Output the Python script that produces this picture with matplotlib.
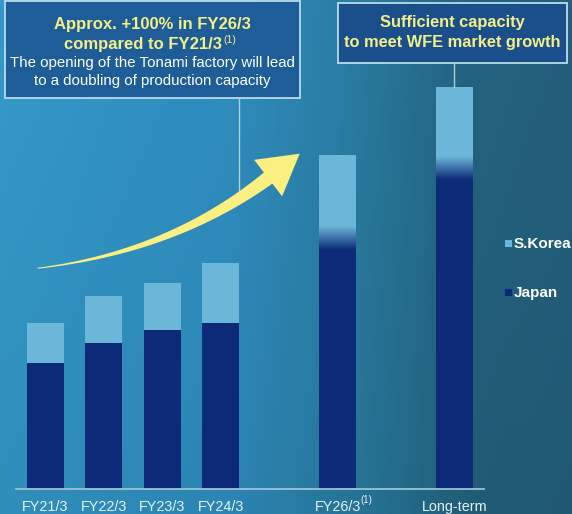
import matplotlib

matplotlib.use("Agg")
import matplotlib.pyplot as plt
import numpy as np
from matplotlib.colors import to_rgba
from matplotlib.patches import PathPatch, Rectangle
from matplotlib.path import Path
from matplotlib.transforms import IdentityTransform

plt.rcParams["font.family"] = ["Liberation Sans", "DejaVu Sans"]

# capacity index (FY21/3 total = 100)
periods = ["FY21/3", "FY22/3", "FY23/3", "FY24/3", "FY26/3", "Long-term"]
footnoted = [False, False, False, False, True, False]
positions = [0, 1, 2, 3, 5, 7]
japan = [76, 88, 96, 100, 152, 194]
korea = [24, 28, 28, 36, 49, 48]
blended = [False, False, False, False, True, True]
legend_labels = ["S.Korea", "Japan"]

JAPAN = "#0c2a77"
KOREA = "#6cb6da"
YELLOW = "#f4ef88"
BOX_EDGE = "#b9dcea"
TICK = "#e4f1f8"

W, H = 572, 514
fig = plt.figure(figsize=(W / 100, H / 100), dpi=100)

# background gradient
bg = fig.add_axes([0, 0, 1, 1])
xs = np.linspace(0, 1, 300)
stops = [0.0, 0.4, 0.62, 0.82, 1.0]
cols = np.array([to_rgba(c)[:3] for c in ["#3499c9", "#2f8ec0", "#297ca1", "#23637f", "#235f7c"]])
row = np.stack([np.interp(xs, stops, cols[:, k]) for k in range(3)], axis=-1)
shade = np.linspace(1.0, 0.93, 120)[:, None, None]
bg.imshow(row[None, :, :] * shade, aspect="auto", extent=[0, 1, 0, 1])
bg.axis("off")

# bars
ax = fig.add_axes([16 / W, 1 - 489 / H, 468 / W, 260 * 1.66 / H])
ax.patch.set_alpha(0)
width = 0.63
ax.bar(positions, japan, width=width, color=JAPAN, zorder=2)
ax.bar(positions, korea, bottom=japan, width=width, color=KOREA, zorder=2)

# soft transition on the forecast bars
grad = np.linspace(0, 1, 64)[:, None, None]
grad_img = np.array(to_rgba(JAPAN)) * (1 - grad) + np.array(to_rgba(KOREA)) * grad
for x, j, b in zip(positions, japan, blended):
    if b:
        ax.imshow(grad_img, extent=[x - width / 2, x + width / 2, j - 8, j + 6],
                  origin="lower", aspect="auto", zorder=3)

ax.set_xlim(-0.5, 7.5)
ax.set_ylim(0, 260)
for side in ["top", "right", "left"]:
    ax.spines[side].set_visible(False)
ax.spines["bottom"].set_color("#9cc3d6")
ax.spines["bottom"].set_linewidth(1.3)
ax.set_yticks([])
ax.set_xticks(positions)
ax.set_xticklabels(periods)
ax.tick_params(axis="x", length=0, pad=8, labelsize=10.4, labelcolor=TICK)
for x, f in zip(positions, footnoted):
    if f:
        ax.annotate("(1)", xy=(x, 0), xycoords=("data", "axes fraction"),
                    xytext=(23, -11), textcoords="offset pixels", ha="left",
                    va="center", fontsize=7, color=TICK)

# overlay in pixel coordinates for callouts and legend
ov = fig.add_axes([0, 0, 1, 1])
ov.set_xlim(0, W)
ov.set_ylim(H, 0)
ov.axis("off")

for (lbl, c), yc in zip(zip(legend_labels, [KOREA, JAPAN]), [243.5, 292.5]):
    ov.add_patch(Rectangle((505, yc - 3.5), 7, 7, fc=c, ec="none"))
    ov.text(514, yc, lbl, ha="left", va="center", color="white",
            fontsize=11, weight="bold")

ov.add_patch(Rectangle((5, 1), 295, 97, fc="#1e5d98", ec=BOX_EDGE, lw=1.3))
ov.add_patch(Rectangle((338, 3), 229, 60, fc="#1b4f8b", ec=BOX_EDGE, lw=1.3))
ov.plot([239, 239], [98, 192], color="#a9cfe0", lw=1)
ov.plot([454, 454], [63, 87], color="#a9cfe0", lw=1)

ov.text(152, 25, "Approx. +100% in FY26/3", ha="center", va="center",
        color=YELLOW, fontsize=12, weight="bold")
ov.text(222, 45, "compared to FY21/3", ha="right", va="center",
        color=YELLOW, fontsize=12, weight="bold")
ov.text(223, 40, "(1)", ha="left", va="center", color=YELLOW, fontsize=7.5)
ov.text(152, 63, "The opening of the Tonami factory will lead", ha="center",
        va="center", color="white", fontsize=10.8)
ov.text(152, 81, "to a doubling of production capacity", ha="center",
        va="center", color="white", fontsize=10.8)
ov.text(452, 23, "Sufficient capacity", ha="center", va="center",
        color=YELLOW, fontsize=11.8, weight="bold")
ov.text(452, 43, "to meet WFE market growth", ha="center", va="center",
        color=YELLOW, fontsize=11.8, weight="bold")

# growth arrow, anchored on the FY21/3 and FY26/3 bars
tot = [j + k for j, k in zip(japan, korea)]
tail = ax.transData.transform((positions[0] - 0.13, tot[0] + 33))
tip = ax.transData.transform((positions[4] - 0.65, tot[4] + 1))
d = tip - tail
ctrl = tail + np.array([0.51 * d[0], 0.14 * d[1]])
direction = np.array([0.79, 0.61])
base = tip - 40 * direction
t = np.linspace(0, 1, 60)[:, None]
curve = (1 - t) ** 2 * tail + 2 * (1 - t) * t * ctrl + t ** 2 * base
deriv = 2 * (1 - t) * (ctrl - tail) + 2 * t * (base - ctrl)
normal = np.column_stack([-deriv[:, 1], deriv[:, 0]])
normal /= np.linalg.norm(normal, axis=1)[:, None]
half = (0.5 + 6.5 * t[:, 0] ** 1.3)[:, None]
left = curve + normal * half
right = curve - normal * half
n_end = normal[-1]
verts = np.vstack([left, base + n_end * 23, tip, base - n_end * 23, right[::-1], left[:1]])
codes = [Path.MOVETO] + [Path.LINETO] * (len(verts) - 2) + [Path.CLOSEPOLY]
fig.patches.append(PathPatch(Path(verts, codes), fc="#fcef82", ec="none",
                             transform=IdentityTransform(), figure=fig, zorder=5))

fig.savefig("out.png", dpi=100)
